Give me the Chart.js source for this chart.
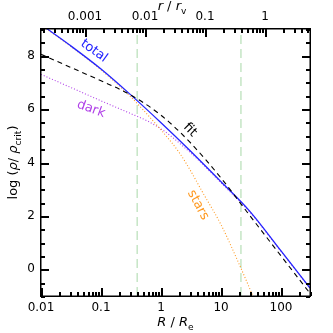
<!DOCTYPE html>
<html>
<head>
<meta charset="utf-8">
<script src="https://cdn.jsdelivr.net/npm/chart.js@4.4.1/dist/chart.umd.min.js"></script>
<style>
  html, body { margin: 0; padding: 0; background: #fff; }
  #wrap { width: 333px; height: 333px; }
</style>
</head>
<body>
<div id="wrap"><canvas id="chart"></canvas></div>
<script>
// R / Re sample points and log density
const totalR = [0.01, 0.03, 0.1, 0.3, 1, 3, 10, 30, 100, 304];
const totalLog = [9.17, 8.40, 7.50, 6.57, 5.49, 4.46, 3.28, 2.18, 0.69, -0.70];

const starsR = [0.01, 0.03, 0.1, 0.3, 0.5, 1, 2, 3, 5, 10, 20, 34];
const starsLog = [9.15, 8.38, 7.47, 6.50, 5.98, 5.22, 4.38, 3.75, 2.86, 1.67, 0.2, -1.0];

const darkR = [0.01, 0.03, 0.1, 0.3, 0.6, 1, 1.5, 2.5, 4, 10, 30, 100, 304];
const darkLog = [7.30, 6.83, 6.31, 5.85, 5.55, 5.26, 4.97, 4.55, 4.14, 3.24, 2.15, 0.67, -0.71];

const fitR = [0.01, 0.03, 0.1, 0.3, 1, 3, 10, 30, 100, 304];
const fitLog = [8.05, 7.58, 7.06, 6.55, 5.77, 4.77, 3.42, 2.02, 0.50, -0.90];

// vertical dashed markers
const markerR = [0.40, 21.5];

// axes
const xMin = 0.01, xMax = 304;
const topMin = 0.000185, topMax = 5.62;
const yMin = -1, yMax = 9;
const bottomTicks = [0.01, 0.1, 1, 10, 100];
const topTicks = [0.001, 0.01, 0.1, 1];
const yTicks = [0, 2, 4, 6, 8];

// curve labels
const labelText = ['total', 'dark', 'fit', 'stars'];
const labelR = [0.0764, 0.068, 3.04, 4.14];
const labelY = [8.18, 6.0, 5.22, 2.41];
const labelAngle = [36, 20, 45, 62];
const labelColor = ['#2424ff', '#b040e8', '#000000', '#ff9920'];

const FONT = "'DejaVu Sans', sans-serif";

function pts(xs, ys) {
    return xs.map((x, i) => ({ x: x, y: ys[i] }));
}

function drawParts(ctx, parts, x, y, size) {
    let w = 0;
    parts.forEach(p => {
        ctx.font = (p.it ? 'italic ' : '') + (p.sub ? size * 0.7 : size) + 'px ' + FONT;
        p.w = ctx.measureText(p.t).width;
        w += p.w;
    });
    let cx = x - w / 2;
    ctx.textAlign = 'left';
    ctx.textBaseline = 'alphabetic';
    parts.forEach(p => {
        ctx.font = (p.it ? 'italic ' : '') + (p.sub ? size * 0.7 : size) + 'px ' + FONT;
        ctx.fillText(p.t, cx, y + (p.sub ? size * 0.3 : 0));
        cx += p.w;
    });
}

const decor = {
    id: 'decor',
    afterDraw(chart) {
        const ctx = chart.ctx;
        const a = chart.chartArea;
        const sx = chart.scales.x, sx2 = chart.scales.x2, sy = chart.scales.y;
        ctx.save();
        ctx.setLineDash([]);
        ctx.fillStyle = '#000';

        // frame
        ctx.fillRect(a.left - 1, a.top - 1, a.right - a.left + 2, 1.5);
        ctx.fillRect(a.left - 1, a.bottom - 0.5, a.right - a.left + 2, 1.5);
        ctx.fillRect(a.left - 1, a.top - 1, 1.5, a.bottom - a.top + 2);
        ctx.fillRect(a.right - 0.5, a.top - 1, 1.5, a.bottom - a.top + 2);

        // log ticks pointing inward, bottom and top
        const logAxes = [
            { s: sx, lo: xMin, hi: xMax, y0: a.bottom, dir: -1 },
            { s: sx2, lo: topMin, hi: topMax, y0: a.top, dir: 1 }
        ];
        logAxes.forEach(ax => {
            const k0 = Math.floor(Math.log10(ax.lo)), k1 = Math.ceil(Math.log10(ax.hi));
            for (let k = k0; k <= k1; k++) {
                for (let m = 1; m <= 9; m++) {
                    const v = m * Math.pow(10, k);
                    if (v < ax.lo * 0.999 || v > ax.hi * 1.001) continue;
                    const px = Math.round(ax.s.getPixelForValue(v));
                    const len = m === 1 ? 8 : 4;
                    if (ax.dir < 0) ctx.fillRect(px, ax.y0 - len, 2, len);
                    else ctx.fillRect(px, ax.y0, 2, len);
                }
            }
        });
        // y ticks, left and right
        for (let v = yMin; v <= yMax + 0.01; v += 0.5) {
            const py = Math.round(sy.getPixelForValue(v));
            const len = (Math.abs(v % 2) < 0.01) ? 8 : 4;
            ctx.fillRect(a.left, py, len, 2);
            ctx.fillRect(a.right - len, py, len, 2);
        }

        // axis titles
        drawParts(ctx, [{ t: 'R', it: true }, { t: ' / ' }, { t: 'R', it: true }, { t: 'e', sub: true }],
            (a.left + a.right) / 2, 326, 13);
        drawParts(ctx, [{ t: 'r', it: true }, { t: ' / ' }, { t: 'r', it: true }, { t: 'v', sub: true }],
            172, 10, 13);
        ctx.save();
        ctx.translate(17, (a.top + a.bottom) / 2);
        ctx.rotate(-Math.PI / 2);
        drawParts(ctx, [{ t: 'log (' }, { t: 'ρ', it: true }, { t: '/ ' }, { t: 'ρ', it: true },
            { t: 'crit', sub: true }, { t: ')' }], 0, 0, 13);
        ctx.restore();

        // curve labels
        labelText.forEach((t, i) => {
            const px = sx.getPixelForValue(labelR[i]);
            const py = sy.getPixelForValue(labelY[i]);
            ctx.save();
            ctx.translate(px, py);
            ctx.rotate(labelAngle[i] * Math.PI / 180);
            ctx.fillStyle = labelColor[i];
            ctx.font = '13px ' + FONT;
            ctx.textAlign = 'center';
            ctx.textBaseline = 'middle';
            ctx.fillText(t, 0, 0);
            ctx.restore();
        });
        ctx.restore();
    }
};

const tickFont = { family: FONT, size: 12 };

const datasets = [];
markerR.forEach(r => {
    datasets.push({
        data: [{ x: r, y: yMin }, { x: r, y: yMax }],
        borderColor: '#a8d8a8', borderWidth: 1, borderDash: [9, 5],
        pointRadius: 0, showLine: true, order: 5
    });
});
datasets.push({
    label: 'dark', data: pts(darkR, darkLog),
    borderColor: '#b040e8', borderWidth: 1.1, borderDash: [1, 2],
    pointRadius: 0, showLine: true, cubicInterpolationMode: 'monotone', order: 4
});
datasets.push({
    label: 'stars', data: pts(starsR, starsLog),
    borderColor: '#ff9920', borderWidth: 1.1, borderDash: [1, 2],
    pointRadius: 0, showLine: true, cubicInterpolationMode: 'monotone', order: 3
});
datasets.push({
    label: 'total', data: pts(totalR, totalLog),
    borderColor: '#2424ff', borderWidth: 1.3,
    pointRadius: 0, showLine: true, cubicInterpolationMode: 'monotone', order: 2
});
datasets.push({
    label: 'fit', data: pts(fitR, fitLog),
    borderColor: '#000', borderWidth: 1.1, borderDash: [5, 4],
    pointRadius: 0, showLine: true, cubicInterpolationMode: 'monotone', order: 1
});

new Chart(document.getElementById('chart'), {
    type: 'scatter',
    data: { datasets: datasets },
    options: {
        responsive: true,
        maintainAspectRatio: false,
        animation: false,
        devicePixelRatio: 1,
        layout: { padding: { left: 0, right: 23, top: 0, bottom: 0 } },
        plugins: { legend: { display: false }, tooltip: { enabled: false } },
        scales: {
            x: {
                type: 'logarithmic', position: 'bottom', min: xMin, max: xMax,
                grid: { display: false, drawTicks: false }, border: { display: false },
                ticks: { font: tickFont, color: '#000', padding: 5, maxRotation: 0, autoSkip: false,
                    callback: v => String(v) },
                afterBuildTicks: s => { s.ticks = bottomTicks.map(v => ({ value: v })); },
                afterFit: s => { s.height = 37; }
            },
            x2: {
                type: 'logarithmic', position: 'top', min: topMin, max: topMax,
                grid: { display: false, drawTicks: false }, border: { display: false },
                ticks: { font: tickFont, color: '#000', padding: 5, maxRotation: 0, autoSkip: false,
                    callback: v => String(v) },
                afterBuildTicks: s => { s.ticks = topTicks.map(v => ({ value: v })); },
                afterFit: s => { s.height = 29; }
            },
            y: {
                type: 'linear', min: yMin, max: yMax,
                grid: { display: false, drawTicks: false }, border: { display: false },
                ticks: { font: tickFont, color: '#000', padding: 6 },
                afterBuildTicks: s => { s.ticks = yTicks.map(v => ({ value: v })); },
                afterFit: s => { s.width = 41; }
            }
        }
    },
    plugins: [decor]
});
</script>
</body>
</html>
